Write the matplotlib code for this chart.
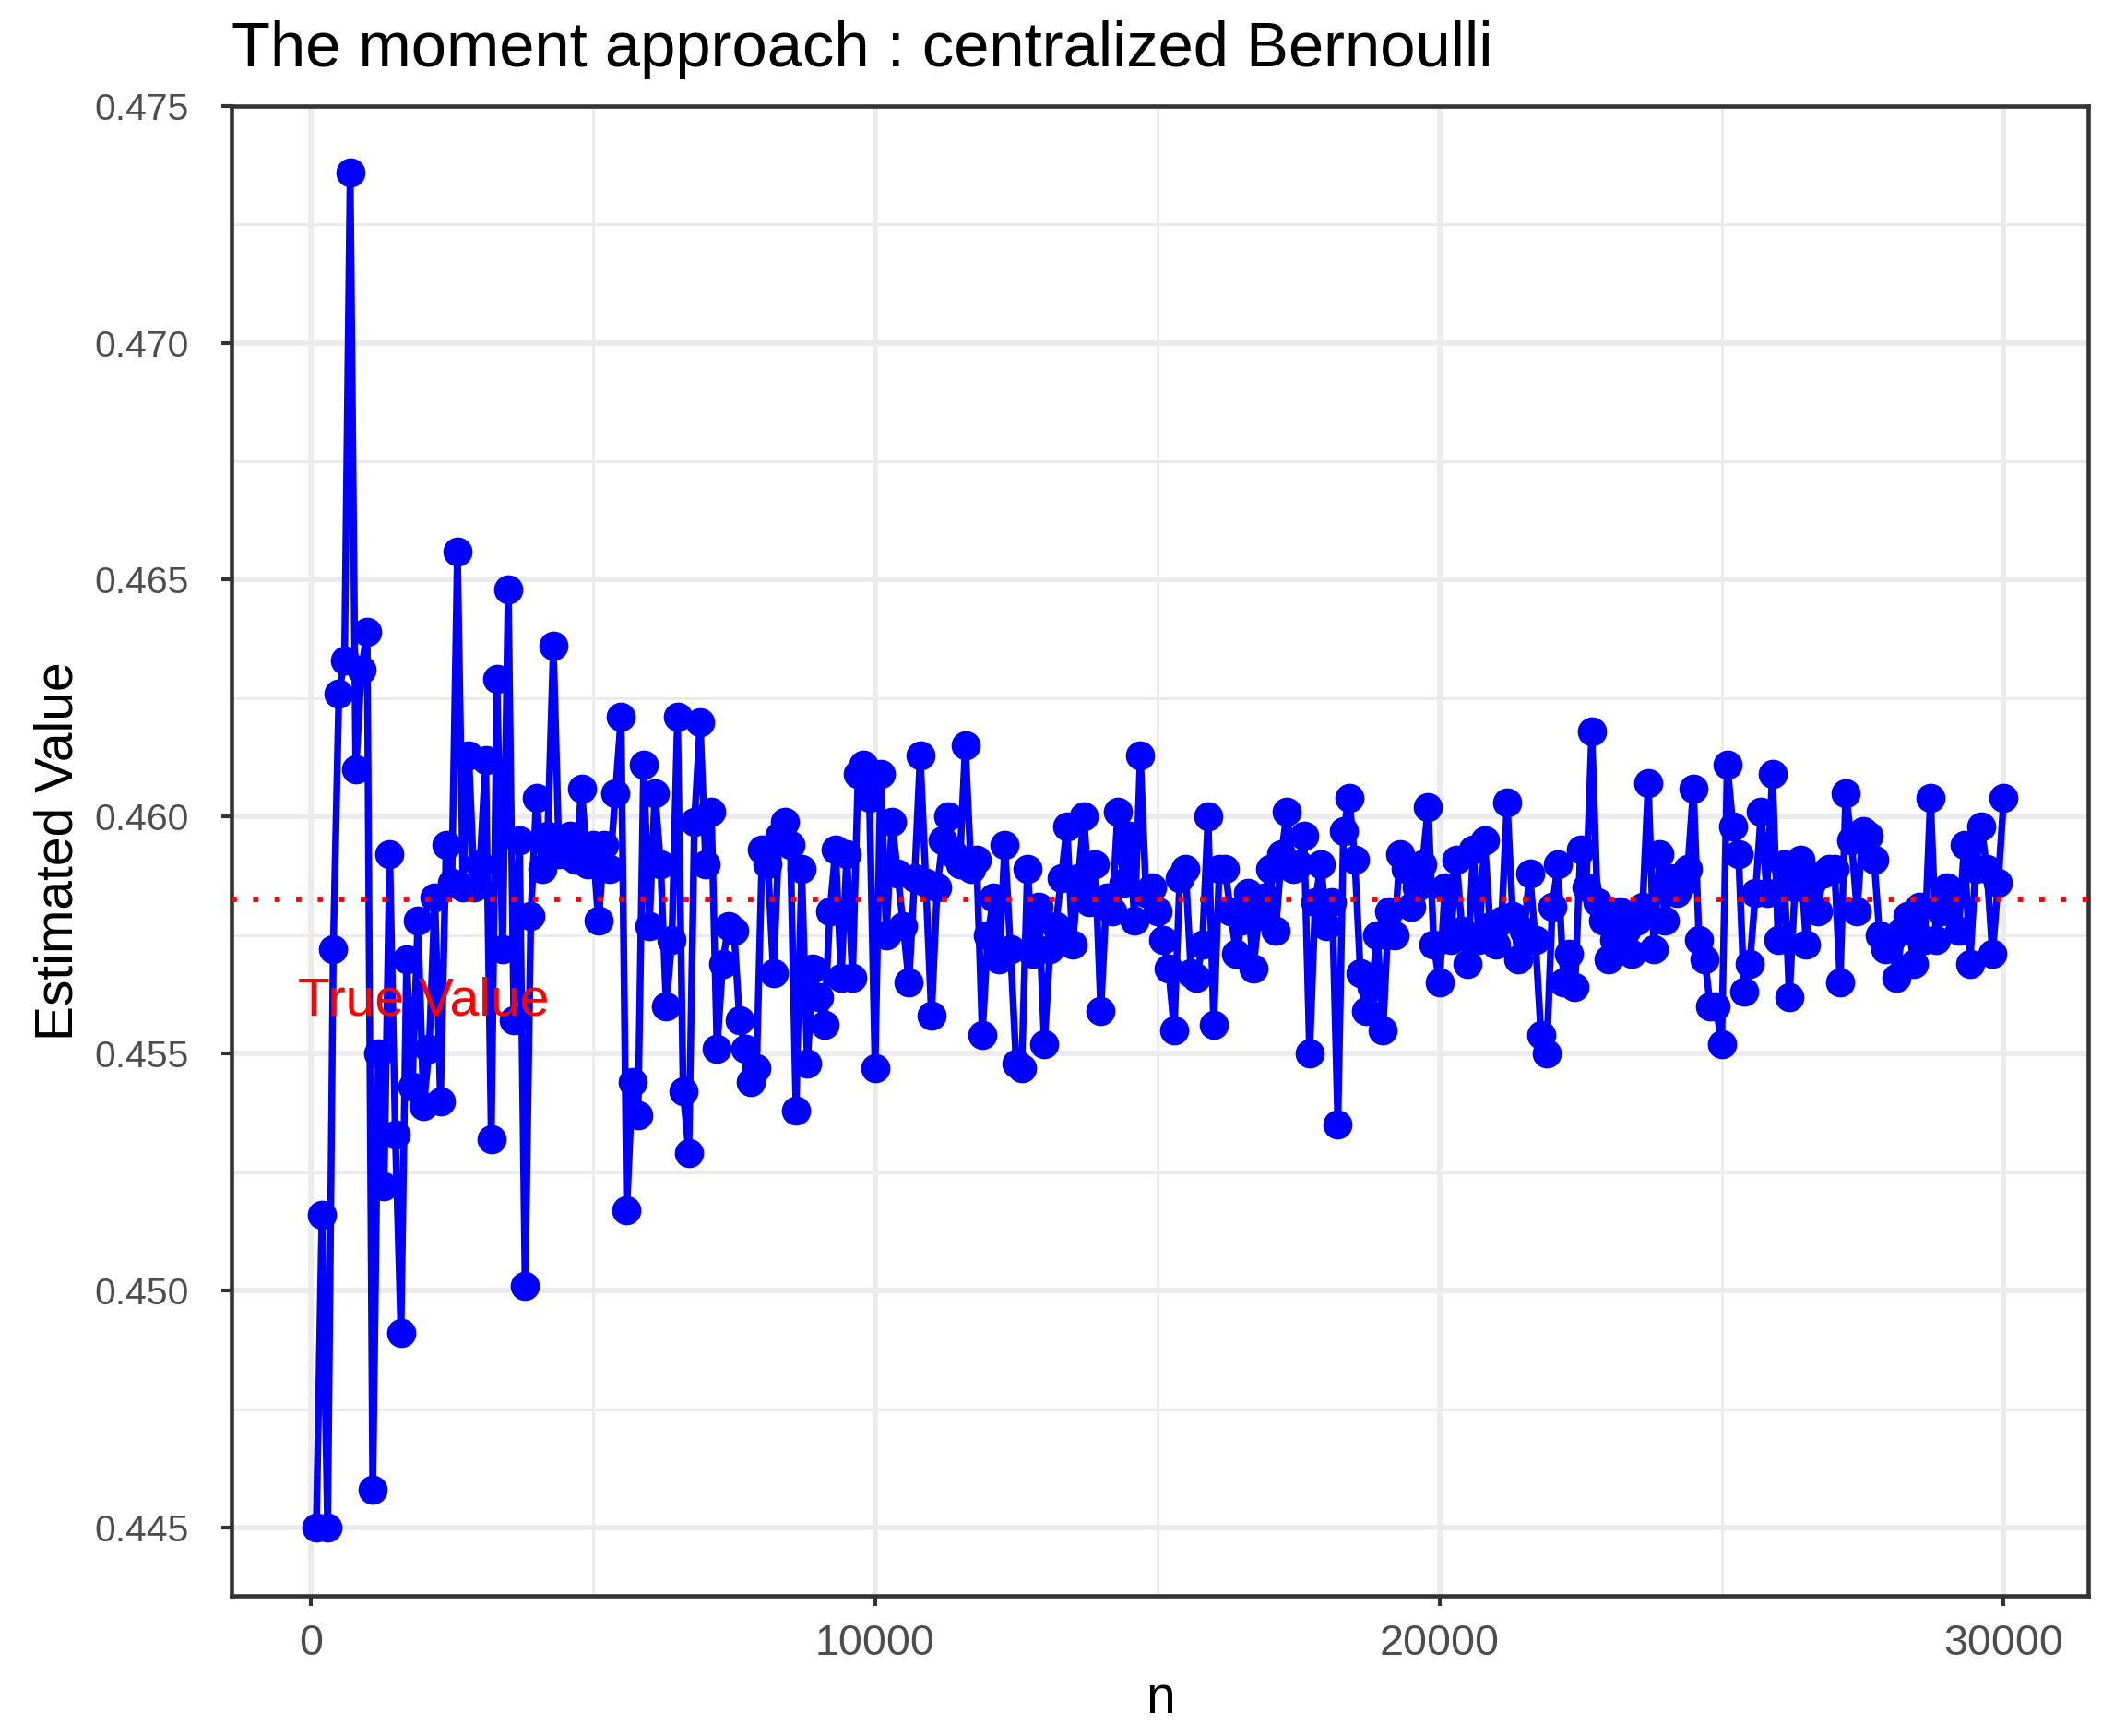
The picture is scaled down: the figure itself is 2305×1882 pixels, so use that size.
import matplotlib
matplotlib.use("Agg")
import matplotlib.pyplot as plt
import numpy as np

plt.rcParams["font.family"] = ["Liberation Sans", "DejaVu Sans"]

TITLE = "The moment approach : centralized Bernoulli"
X_LABEL = "n"
Y_LABEL = "Estimated Value"
TRUE_VALUE = 0.45825
TRUE_LABEL = "True Value"
TRUE_LABEL_X = 2000
TRUE_LABEL_Y = 0.4561

# sample sizes 100, 200, ..., 30000
n_values = np.arange(100, 30001, 100)

# estimates, 50 points per block
est_a = [0.4450, 0.4516, 0.4450, 0.4572, 0.4626, 0.4633, 0.4736, 0.4610, 0.4631, 0.4639,
         0.4458, 0.4550, 0.4522, 0.4592, 0.4533, 0.4491, 0.4570, 0.4543, 0.4578, 0.4539,
         0.4551, 0.4583, 0.4540, 0.4594, 0.4586, 0.4656, 0.4585, 0.4613, 0.4585, 0.4590,
         0.4612, 0.4532, 0.4629, 0.4572, 0.4648, 0.4557, 0.4595, 0.4501, 0.4579, 0.4604,
         0.4589, 0.4596, 0.4636, 0.4592, 0.4592, 0.4596, 0.4591, 0.4606, 0.4590, 0.4594]
est_b = [0.4578, 0.4594, 0.4589, 0.4605, 0.4621, 0.4517, 0.4544, 0.4537, 0.4611, 0.4577,
         0.4605, 0.4590, 0.4560, 0.4574, 0.4621, 0.4542, 0.4529, 0.4599, 0.4620, 0.4590,
         0.4601, 0.4551, 0.4569, 0.4577, 0.4576, 0.4557, 0.4551, 0.4544, 0.4547, 0.4593,
         0.4590, 0.4567, 0.4596, 0.4599, 0.4594, 0.4538, 0.4589, 0.4548, 0.4568, 0.4562,
         0.4556, 0.4580, 0.4593, 0.4566, 0.4592, 0.4566, 0.4609, 0.4611, 0.4604, 0.4547]
est_c = [0.4609, 0.4575, 0.4599, 0.4588, 0.4577, 0.4565, 0.4587, 0.4613, 0.4586, 0.4558,
         0.4585, 0.4595, 0.4600, 0.4592, 0.4590, 0.4615, 0.4589, 0.4591, 0.4554, 0.4575,
         0.4583, 0.4570, 0.4594, 0.4572, 0.4548, 0.4547, 0.4589, 0.4571, 0.4581, 0.4552,
         0.4572, 0.4577, 0.4587, 0.4598, 0.4573, 0.4587, 0.4600, 0.4582, 0.4590, 0.4559,
         0.4583, 0.4580, 0.4601, 0.4586, 0.4596, 0.4578, 0.4613, 0.4584, 0.4585, 0.4580]
est_d = [0.4574, 0.4568, 0.4555, 0.4587, 0.4589, 0.4567, 0.4566, 0.4573, 0.4600, 0.4556,
         0.4589, 0.4589, 0.4580, 0.4571, 0.4578, 0.4584, 0.4568, 0.4579, 0.4583, 0.4589,
         0.4576, 0.4592, 0.4601, 0.4589, 0.4590, 0.4596, 0.4550, 0.4582, 0.4590, 0.4577,
         0.4582, 0.4535, 0.4597, 0.4604, 0.4591, 0.4567, 0.4559, 0.4564, 0.4575, 0.4555,
         0.4580, 0.4575, 0.4592, 0.4589, 0.4581, 0.4585, 0.4590, 0.4602, 0.4573, 0.4565]
est_e = [0.4585, 0.4574, 0.4591, 0.4576, 0.4569, 0.4593, 0.4574, 0.4595, 0.4577, 0.4573,
         0.4578, 0.4603, 0.4579, 0.4570, 0.4576, 0.4588, 0.4574, 0.4554, 0.4550, 0.4581,
         0.4590, 0.4565, 0.4571, 0.4564, 0.4593, 0.4585, 0.4618, 0.4582, 0.4578, 0.4570,
         0.4574, 0.4580, 0.4576, 0.4571, 0.4578, 0.4581, 0.4607, 0.4572, 0.4592, 0.4578,
         0.4587, 0.4584, 0.4586, 0.4589, 0.4606, 0.4574, 0.4570, 0.4560, 0.4560, 0.4552]
est_f = [0.4611, 0.4598, 0.4592, 0.4563, 0.4569, 0.4584, 0.4601, 0.4584, 0.4609, 0.4574,
         0.4590, 0.4562, 0.4585, 0.4591, 0.4573, 0.4586, 0.4580, 0.4588, 0.4589, 0.4589,
         0.4565, 0.4605, 0.4595, 0.4580, 0.4597, 0.4596, 0.4591, 0.4575, 0.4572, 0.4574,
         0.4566, 0.4576, 0.4579, 0.4569, 0.4581, 0.4574, 0.4604, 0.4574, 0.4580, 0.4585,
         0.4584, 0.4576, 0.4594, 0.4569, 0.4589, 0.4598, 0.4589, 0.4571, 0.4586, 0.4604]
estimates = np.array(est_a + est_b + est_c + est_d + est_e + est_f)

x_ticks = [0, 10000, 20000, 30000]
x_minor = [5000, 15000, 25000]
y_ticks = [0.445, 0.450, 0.455, 0.460, 0.465, 0.470, 0.475]
y_minor = [0.4475, 0.4525, 0.4575, 0.4625, 0.4675, 0.4725]
x_lim = (-1395, 31495)
y_lim = (0.44356, 0.475)

GRID = "#EBEBEB"
INK = "#333333"
TICK_TEXT = "#4D4D4D"

fig = plt.figure(figsize=(2305 / 300, 1882 / 300), dpi=300)
ax = fig.add_axes([0.1091, 0.0807, 0.8731, 0.8584])

ax.set_xlim(*x_lim)
ax.set_ylim(*y_lim)
ax.set_xticks(x_ticks)
ax.set_xticks(x_minor, minor=True)
ax.set_yticks(y_ticks)
ax.set_yticks(y_minor, minor=True)
ax.set_xticklabels([str(t) for t in x_ticks])
ax.set_yticklabels([f"{t:.3f}" for t in y_ticks])

ax.set_axisbelow(True)
ax.grid(which="major", color=GRID, linewidth=1.4)
ax.grid(which="minor", color=GRID, linewidth=0.7)
ax.tick_params(which="minor", length=0)
ax.tick_params(which="major", length=2.75, width=1.0, color=INK,
               labelcolor=TICK_TEXT)
ax.tick_params(axis="y", pad=8.5, labelsize=9.8)
ax.tick_params(axis="x", pad=4.5, labelsize=11.2)
for sp in ax.spines.values():
    sp.set_color(INK)
    sp.set_linewidth(1.1)

ax.plot(n_values, estimates, color="blue", linewidth=1.8, marker="o",
        markersize=6.6, zorder=3)
ax.axhline(TRUE_VALUE, color="red", linewidth=1.4, linestyle=(0, (1, 3)),
           dash_capstyle="butt", zorder=4)
ax.text(TRUE_LABEL_X, TRUE_LABEL_Y, TRUE_LABEL, color="red", fontsize=13.7,
        ha="center", va="center", zorder=5)

fig.text(0.1091, 0.9617, TITLE, fontsize=16.5, ha="left", va="baseline")
fig.text(0.5456, 0.0135, X_LABEL, fontsize=13.7, ha="center", va="baseline")
fig.text(0.0275, 0.5099, Y_LABEL, fontsize=13.7, ha="center", va="center",
         rotation=90)

fig.savefig("out.png", dpi=300)
plt.close(fig)
